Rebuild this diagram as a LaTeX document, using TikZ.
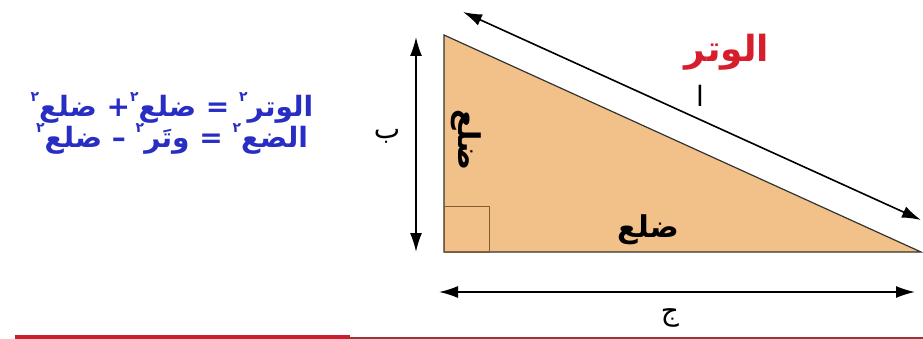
\documentclass[tikz,border=0pt]{standalone}
\usepackage{fontspec}
\usetikzlibrary{arrows.meta}
\TeXXeTstate=1
\newfontfamily\arabicfont[Script=Arabic]{DejaVu Sans}
\definecolor{trifill}{RGB}{242,193,137}
\definecolor{formblue}{RGB}{40,45,195}
\definecolor{hypred}{RGB}{215,30,45}
\definecolor{linered}{RGB}{200,30,45}
\definecolor{darkred}{RGB}{150,55,55}
\definecolor{sqbrown}{RGB}{130,90,50}
\newcommand\sqr{\raise 0.55em\hbox{\fontsize{14}{14}\selectfont ٢}}
\newcommand\rl[1]{\beginR #1\endR}
\begin{document}
\begin{tikzpicture}[x=1pt,y=-1pt,
  dim/.style={line width=1.6pt,{Latex[length=19pt,width=12pt]}-{Latex[length=19pt,width=12pt]}},
  ar/.style={font=\arabicfont\fontsize{28}{32}\selectfont, inner sep=0pt},
  arb/.style={font=\arabicfont\bfseries\fontsize{30}{34}\selectfont, inner sep=0pt},
  formula/.style={font=\arabicfont\bfseries\fontsize{28}{30}\selectfont, text=formblue, inner sep=0pt}]
\useasboundingbox (0,0) rectangle (923,339);
\fill[white] (0,0) rectangle (923,339);
% triangle
\coordinate (A) at (444,35);
\coordinate (C) at (444,252);
\coordinate (B) at (921,252);
\filldraw[fill=trifill, draw=black!80, line width=1.2pt] (A) -- (C) -- (B) -- cycle;
\coordinate (sq1) at (444,206);
\coordinate (sq2) at (489,252);
\draw[sqbrown, line width=1pt] (sq1) rectangle (sq2);
% dimension arrows
\coordinate (vt) at (416,37);
\coordinate (vb) at (416,252);
\coordinate (hl) at (439,292);
\coordinate (hr) at (915,292);
\coordinate (dt) at (463,12);
\coordinate (db) at (921,220);
\draw[dim] (vt) -- (vb);
\draw[dim] (hl) -- (hr);
\draw[dim] (dt) -- (db);
% labels
\node[ar] (lb) at (387,136) {\rl{ب}};
\node[ar] (lj) at (670,318) {\rl{ج}};
\node[ar] (la) at (700,96) {\rl{ا}};
\node[arb] (lbase) at (648,230) {\rl{ضلع}};
\node[arb, rotate=-90] (lside) at (466,140) {\rl{ضلع}};
\node[arb, font=\arabicfont\bfseries\fontsize{36}{40}\selectfont, text=hypred] (lhyp) at (727,52) {\rl{الوتر}};
% formulas
\node[formula] (f1) at (172,108) {\beginR الوتر\sqr{} = ضلع\sqr{}+ ضلع\sqr\endR};
\node[formula] (f2) at (172,139) {\beginR الضع\sqr{} = وتَر\sqr{} – ضلع\sqr\endR};
% bottom rule
\coordinate (r1) at (15,337);
\coordinate (r2) at (350,337);
\coordinate (r3) at (923,338);
\draw[linered, line width=4pt] (r1) -- (r2);
\draw[darkred, line width=1.5pt] (r2 |- r3) -- (r3);
\end{tikzpicture}
\end{document}
